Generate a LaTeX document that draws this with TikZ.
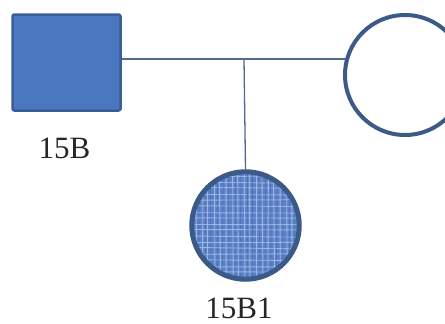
\documentclass[tikz,border=0pt]{standalone}
\usepackage{fontspec}
\setmainfont{Liberation Serif}
\definecolor{sqfill}{HTML}{4A77C0}
\definecolor{sqline}{HTML}{3A5F98}
\definecolor{ringline}{HTML}{3C5A88}
\definecolor{conn}{HTML}{51698A}
\definecolor{texbase}{HTML}{5A80C6}
\definecolor{texlight}{HTML}{A6BEEA}
\definecolor{texdark}{HTML}{3F63A8}
\begin{document}
\begin{tikzpicture}[x=1pt,y=-1pt,
  male/.style={draw=sqline,fill=sqfill,line width=2.5pt,rounded corners=2pt,minimum width=108pt,minimum height=96pt,inner sep=0pt},
  female/.style={circle,draw=ringline,fill=white,line width=4pt,minimum size=120pt,inner sep=0pt},
  child/.style={circle,draw=ringline,fill=texbase,line width=3.5pt,minimum size=109pt,inner sep=0pt},
  conn/.style={draw=conn,line width=1.3pt},
  lbl/.style={font=\fontsize{31}{31}\selectfont,text=black!85,anchor=base,inner sep=0pt}]
\useasboundingbox (0,0) rectangle (445,324);
\fill[white] (0,0) rectangle (445,324);
\begin{scope}
\clip (0,0) rectangle (445,324);
\path[conn] (122,59) -- (345,59);
\node[male] (m) at (66.5,62.5) {};
\node[female] (f) at (405,75) {};
\coordinate (mid) at (244,59);
\node[child] (c) at (245.5,225.5) {};
\draw[conn] (mid) -- (c.north);
\begin{scope}
\clip (245.5,225.5) circle (53pt);
\foreach \i/\a/\b in {0/0.3/-0.4,1/-0.5/0.6,2/0.8/0.1,3/-0.2/-0.7,4/0.5/0.4,5/-0.8/0.2,6/0.1/-0.3,7/0.6/0.7,8/-0.4/-0.1,9/0.2/0.5,10/-0.6/-0.5,11/0.7/0.0,12/-0.1/0.6,13/0.4/-0.6,14/-0.7/0.3,15/0.0/-0.2,16/0.5/0.8,17/-0.3/-0.4,18/0.8/0.1,19/-0.5/0.5} {
  \draw[texlight,line width=0.9pt,opacity=0.85] (190+\i*6+\a,168) -- (190.5+\i*6+\b,284);
  \draw[texlight,line width=0.9pt,opacity=0.85] (188,170+\i*6+\b) -- (304,170.5+\i*6+\a);
  \draw[texdark,line width=0.7pt,opacity=0.5] (193+\i*6+\b,168) -- (193+\i*6+\a,284);
}
\end{scope}
\draw[ringline,line width=3.5pt] (c) circle (53pt);
\end{scope}
\node[lbl] (l1) at (64.5,158) {15B};
\node[lbl] (l2) at (239,318) {15B1};
\end{tikzpicture}
\end{document}
